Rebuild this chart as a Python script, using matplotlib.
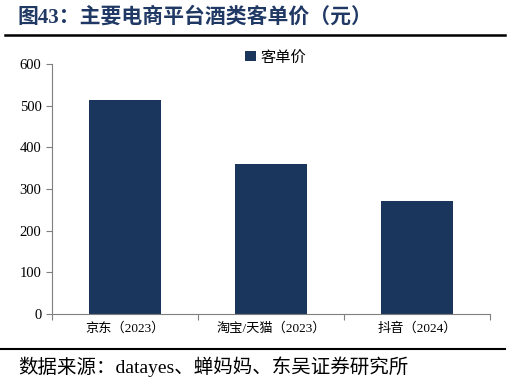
import numpy as np
import matplotlib.pyplot as plt
from matplotlib.lines import Line2D

plt.rcParams['font.family'] = ['Liberation Serif', 'Noto Sans CJK SC']

platforms = ['京东（2023）', '淘宝/天猫（2023）', '抖音（2024）']
price = [513, 360, 271]
bar_color = '#1B365D'

fig = plt.figure(figsize=(5.1, 3.83), dpi=100)
ax = fig.add_axes([0.102, 0.180, 0.859, 0.653])

x = np.arange(len(platforms))
ax.bar(x, price, width=0.49, color=bar_color, label='客单价')

ax.set_xlim(-0.5, 2.5)
ax.set_ylim(0, 600)
ax.set_yticks(np.arange(0, 601, 100))
ax.set_xticks(np.arange(-0.5, 2.6, 1))
ax.set_xticklabels([])
ax.set_xticks(x, minor=True)
ax.set_xticklabels(platforms, minor=True, fontsize=9.5)
ax.tick_params(axis='x', which='minor', length=0, pad=6)
ax.tick_params(axis='x', which='major', length=4, color='#7f7f7f')
ax.tick_params(axis='y', length=4, color='#7f7f7f', labelsize=10.5)

for s in ['top', 'right']:
    ax.spines[s].set_visible(False)
for s in ['left', 'bottom']:
    ax.spines[s].set_color('#7f7f7f')

ax.legend(loc='upper center', bbox_to_anchor=(0.51, 1.11), frameon=False,
          fontsize=11, handlelength=0.7, handleheight=0.7, handletextpad=0.3)

fig.text(0.035, 0.955, '图43：主要电商平台酒类客单价（元）', fontsize=15,
         fontweight='bold', color='#1F3864', va='center', ha='left')
fig.add_artist(Line2D([0.01, 0.99], [0.908, 0.908], color='black', lw=1.8))
fig.add_artist(Line2D([0.0, 0.99], [0.088, 0.088], color='black', lw=1.5))
fig.text(0.035, 0.043, '数据来源：datayes、蝉妈妈、东吴证券研究所', fontsize=14,
         va='center', ha='left')

fig.savefig('out.png', dpi=100)
